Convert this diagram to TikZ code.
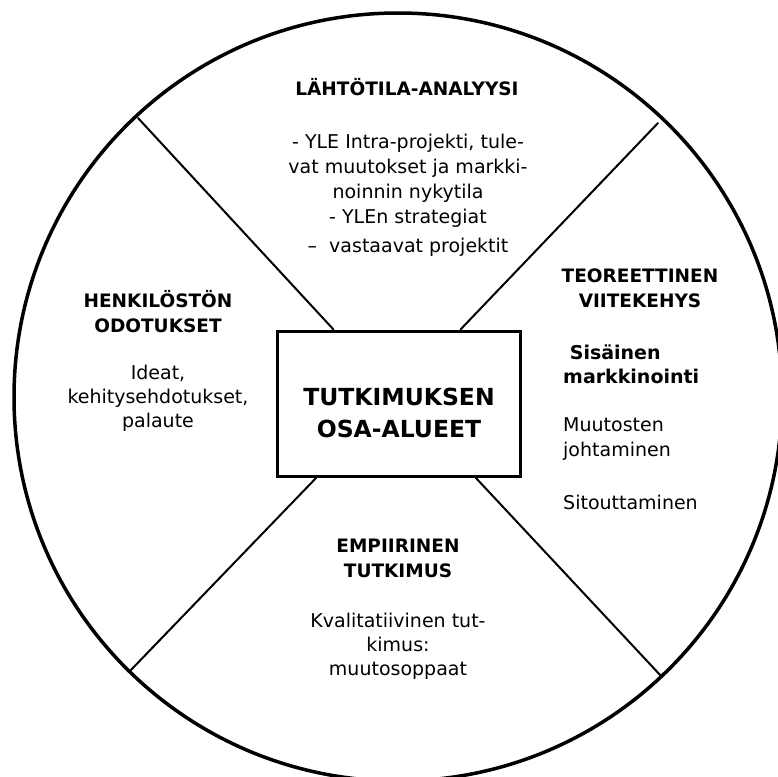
\documentclass[tikz,border=0pt]{standalone}
\usepackage{fontspec}
\setmainfont{DejaVu Sans}
% a stack of centred / left-aligned lines whose baseline is that of the first line
\newcommand{\clines}[1]{\begin{tabular}[t]{@{}c@{}}#1\end{tabular}}
\newcommand{\llines}[1]{\begin{tabular}[t]{@{}l@{}}#1\end{tabular}}
\begin{document}
\begin{tikzpicture}[x=1pt,y=-1pt,
  body/.style={font=\fontsize{19}{25}\selectfont, anchor=base, inner sep=0pt},
  heading/.style={body, font=\bfseries\fontsize{18.5}{25}\selectfont},
  divider/.style={line width=2pt, line cap=round},
  rim/.style={line width=3.5pt},
  centrebox/.style={draw, line width=3pt, minimum width=243pt, minimum height=145pt, inner sep=0pt}]
\useasboundingbox (0,0) rectangle (778,776);
\clip (0,0) rectangle (778,776);

% outer circle
\draw[rim] (398,397) circle[radius=384];

% the four dividing lines, from the rim to the central box
\coordinate (ulrim) at (138,118);
\coordinate (urrim) at (658,123);
\coordinate (llrim) at (129,672);
\coordinate (lrrim) at (662,677);

\node[centrebox] (box) at (398.5,403.5) {};
\draw[divider] (ulrim) -- ([xshift=58pt]box.north west);
\draw[divider] (urrim) -- ([xshift=-61pt]box.north east);
\draw[divider] (llrim) -- ([xshift=41pt]box.south west);
\draw[divider] (lrrim) -- ([xshift=-46pt]box.south east);

% centre
\node[heading, font=\bfseries\fontsize{23.5}{32}\selectfont] (centretext) at (399,405)
  {\clines{TUTKIMUKSEN\\OSA-ALUEET}};

% top sector
\node[heading] (toptitle) at (407,95) {LÄHTÖTILA-ANALYYSI};
\node[body] (toptext) at (408,148)
  {\clines{- YLE Intra-projekti, tule-\\vat muutokset ja markki-\\noinnin nykytila\\- YLEn strategiat\\[4pt]–\ \ vastaavat projektit}};

% left sector
\node[heading] (lefttitle) at (158,307) {\clines{HENKILÖSTÖN\\ODOTUKSET}};
\node[body, font=\fontsize{19}{24}\selectfont] (lefttext) at (158,379)
  {\clines{Ideat,\\kehitysehdotukset,\\palaute}};

% right sector
\node[heading] (righttitle) at (640,282) {\clines{TEOREETTINEN\\VIITEKEHYS}};
\node[body, font=\fontsize{19}{24.5}\selectfont, anchor=base west] (righttext) at (563,359)
  {\llines{\textbf{\ Sisäinen}\\\textbf{markkinointi}\\[23.5pt]Muutosten\\johtaminen\\[28.5pt]Sitouttaminen}};

% bottom sector
\node[heading] (bottomtitle) at (398,552) {\clines{EMPIIRINEN\\TUTKIMUS}};
\node[body, font=\fontsize{19}{24}\selectfont] (bottomtext) at (398,627)
  {\clines{Kvalitatiivinen tut-\\kimus:\\muutosoppaat}};
\end{tikzpicture}
\end{document}
